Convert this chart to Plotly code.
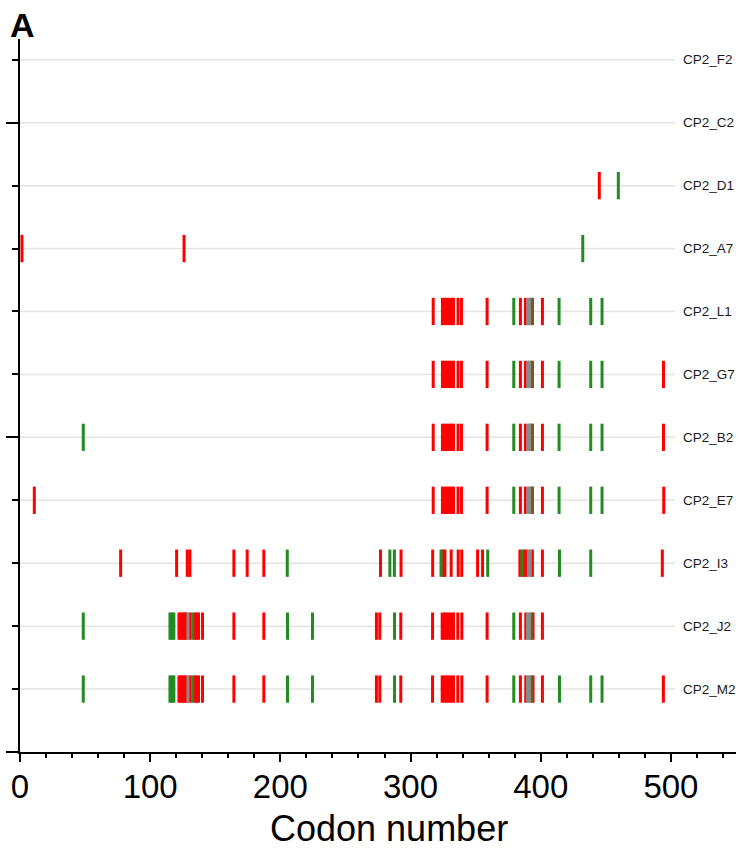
import plotly.graph_objects as go

# Sample rows, bottom to top
rows = ["CP2_M2", "CP2_J2", "CP2_I3", "CP2_E7", "CP2_B2", "CP2_G7",
        "CP2_L1", "CP2_A7", "CP2_D1", "CP2_C2", "CP2_F2"]

# Codon positions of each mutation, per sample and class
M2_red = [122.1, 123.6, 125.0, 126.5, 127.6, 130.5, 134.1, 135.6, 137.1, 140.2,
          164.3, 187.3, 273.8, 276.4, 292.5, 316.9, 324.3, 326.0, 327.7, 329.4,
          331.1, 333.0, 336.3, 339.4, 358.8, 384.4, 388.5, 394.1, 401.3, 494.2]
M2_green = [48.6, 115.2, 116.7, 118.2, 132.6, 205.5, 224.7, 287.7, 379.3, 392.6,
            414.4, 438.4, 447.1]
M2_gray = [129.0, 389.8, 391.3]

J2_red = [122.1, 123.6, 125.0, 126.5, 127.6, 130.5, 134.1, 135.6, 137.1, 140.2,
          164.3, 187.3, 273.8, 276.4, 292.5, 316.9, 324.3, 326.0, 327.7, 329.4,
          331.1, 333.0, 336.3, 339.4, 358.8, 384.4, 388.5, 394.1, 401.3]
J2_green = [48.6, 115.2, 116.7, 118.2, 132.6, 205.5, 224.7, 287.7, 379.3, 392.6]
J2_gray = [129.0, 389.8, 391.3]

I3_red = [77.3, 120.3, 128.5, 130.5, 164.3, 174.5, 187.3, 276.9, 292.7, 317.0,
          324.9, 326.4, 331.2, 336.6, 339.3, 351.5, 355.3, 384.0, 387.2, 388.7,
          393.6, 401.3, 493.4]
I3_green = [205.3, 284.1, 287.6, 323.4, 359.3, 385.6, 414.4, 438.4]
I3_gray = [390.5, 392.0]

E7_red = [11.0, 317.4, 324.5, 326.2, 328.0, 329.7, 331.4, 333.0, 336.5, 339.1,
          358.8, 384.4, 388.2, 393.6, 401.3, 494.5]
E7_green = [379.3, 392.6, 414.1, 438.4, 447.1]
E7_gray = [390.0, 391.4]

B2_red = [317.4, 324.5, 326.2, 328.0, 329.7, 331.4, 333.0, 336.5, 339.1,
          358.8, 384.4, 388.2, 393.6, 401.3, 494.3]
B2_green = [48.6, 379.3, 392.6, 414.1, 438.4, 447.1]
B2_gray = [390.0, 391.4]

G7_red = [317.4, 324.5, 326.2, 328.0, 329.7, 331.4, 333.0, 336.5, 339.1,
          358.8, 384.4, 388.2, 393.6, 401.3, 494.3]
G7_green = [379.3, 392.6, 414.1, 438.4, 447.1]
G7_gray = [390.0, 391.4]

L1_red = [317.4, 324.5, 326.2, 328.0, 329.7, 331.4, 333.0, 336.5, 339.1,
          358.8, 384.4, 388.2, 393.6, 401.3]
L1_green = [379.3, 392.6, 414.1, 438.4, 447.1]
L1_gray = [390.0, 391.4]

A7_red = [1.5, 126.0]
A7_green = [432.3]
A7_gray = []

D1_red = [445.0]
D1_green = [459.6]
D1_gray = []

C2_red, C2_green, C2_gray = [], [], []
F2_red, F2_green, F2_gray = [], [], []

marks = {
    "CP2_M2": (M2_red, M2_green, M2_gray),
    "CP2_J2": (J2_red, J2_green, J2_gray),
    "CP2_I3": (I3_red, I3_green, I3_gray),
    "CP2_E7": (E7_red, E7_green, E7_gray),
    "CP2_B2": (B2_red, B2_green, B2_gray),
    "CP2_G7": (G7_red, G7_green, G7_gray),
    "CP2_L1": (L1_red, L1_green, L1_gray),
    "CP2_A7": (A7_red, A7_green, A7_gray),
    "CP2_D1": (D1_red, D1_green, D1_gray),
    "CP2_C2": (C2_red, C2_green, C2_gray),
    "CP2_F2": (F2_red, F2_green, F2_gray),
}

colors = {"red": "#ff0000", "green": "#228b22", "gray": "#8a8a8a"}
GRID_END = 503
LABEL_X = 508

fig = go.Figure()

# one trace per mutation class, spanning all rows
for ci, cls in enumerate(["red", "green", "gray"]):
    xs, ys = [], []
    for yi, name in enumerate(rows, start=1):
        vals = marks[name][ci]
        xs.extend(vals)
        ys.extend([yi] * len(vals))
    fig.add_trace(go.Scatter(
        x=xs, y=ys, mode="markers", showlegend=False, hoverinfo="x",
        cliponaxis=False,
        marker=dict(symbol="line-ns", size=19.5,
                    line=dict(color=colors[cls], width=3)),
    ))

sans = "Liberation Sans, Arial"

shapes = []
annotations = []
for yi, name in enumerate(rows, start=1):
    shapes.append(dict(type="line", xref="x", yref="y", x0=0, x1=GRID_END,
                       y0=yi, y1=yi, layer="below",
                       line=dict(color="#e3e3e3", width=1.5)))
    annotations.append(dict(x=LABEL_X, y=yi, xref="x", yref="y", text=name,
                            showarrow=False, xanchor="left", yanchor="middle",
                            font=dict(family=sans, size=13.5, color="#1a1a1a")))

# panel letter
annotations.append(dict(x=0.004, y=1.0196, xref="paper", yref="paper",
                        text="<b>A</b>", showarrow=False,
                        xanchor="center", yanchor="middle",
                        font=dict(family=sans, size=34, color="black")))

# x-axis title
annotations.append(dict(x=0.515, y=-0.107, xref="paper", yref="paper",
                        text="Codon number", showarrow=False,
                        xanchor="center", yanchor="middle",
                        font=dict(family=sans, size=36, color="black")))

fig.update_layout(
    width=739, height=854,
    margin=dict(l=20, r=3, t=39, b=102),
    paper_bgcolor="white", plot_bgcolor="white",
    shapes=shapes, annotations=annotations,
    xaxis=dict(range=[0, 550], tick0=0, dtick=100, ticks="outside", ticklen=8,
               tickwidth=2, tickcolor="black", showline=True, linewidth=2,
               linecolor="black", showgrid=False, zeroline=False,
               ticklabelstandoff=-4,
               tickfont=dict(family=sans, size=33, color="black"),
               minor=dict(dtick=20, ticks="outside", ticklen=4, tickwidth=2,
                          tickcolor="black")),
    yaxis=dict(range=[0, 11.33], tick0=0, dtick=5, ticks="outside", ticklen=12,
               tickwidth=2, tickcolor="black", showline=True, linewidth=2,
               linecolor="black", showgrid=False, zeroline=False,
               showticklabels=False,
               minor=dict(dtick=1, ticks="outside", ticklen=6, tickwidth=2,
                          tickcolor="black")),
)

fig.write_html("out.html")
